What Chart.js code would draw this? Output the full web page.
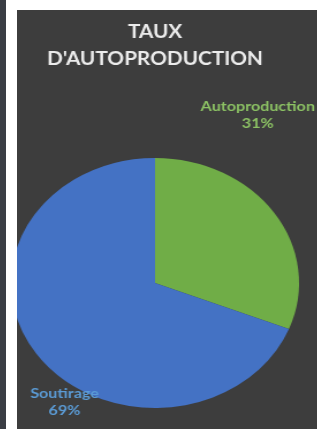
<!DOCTYPE html>
<html>
<head>
<meta charset="utf-8">
<script src="https://cdn.jsdelivr.net/npm/chart.js@4.4.1/dist/chart.umd.min.js"></script>
<style>
  html, body { margin: 0; padding: 0; background: #fff; width: 317px; height: 429px; overflow: hidden; }
  #strip { position: absolute; left: 0; top: 0; width: 6px; height: 429px; background: #3a3d44; }
  #panel { position: absolute; left: 17px; top: 10px; width: 300px; height: 419px; background: #3d3d3d; overflow: hidden; }
  #chart { position: absolute; left: -29px; top: 0; transform: scaleX(1.152); transform-origin: 0 0; }
</style>
</head>
<body>
<div id="strip"></div>
<div id="panel">
  <canvas id="chart" width="290" height="419"></canvas>
</div>
<script>
// data
const categories = ["Autoproduction", "Soutirage"];
const values = [31, 69];
const sliceColors = ["#70ad47", "#4472c4"];
const labelColors = ["#8cc264", "#5b9bd5"];
// where each label sits: fraction along the slice's arc, distance in radii
const labelPlace = [{ f: 0.25, k: 1.525 }, { f: 0.41, k: 1.14 }];

const total = values.reduce((a, b) => a + b, 0);

// draw "name / xx%" labels next to each slice
const sliceLabels = {
  id: "sliceLabels",
  afterDatasetsDraw(chart) {
    const ctx = chart.ctx;
    const arcs = chart.getDatasetMeta(0).data;
    ctx.save();
    ctx.font = "bold 14px Lato";
    ctx.textAlign = "center";
    ctx.textBaseline = "middle";
    arcs.forEach((arc, i) => {
      const p = arc.getProps(["x", "y", "startAngle", "endAngle", "outerRadius"], true);
      const a = p.startAngle + labelPlace[i].f * (p.endAngle - p.startAngle);
      const r = labelPlace[i].k * p.outerRadius;
      const x = p.x + Math.cos(a) * r;
      const y = p.y + Math.sin(a) * r;
      ctx.fillStyle = labelColors[i];
      ctx.fillText(categories[i], x, y - 8.5);
      ctx.fillText(Math.round(values[i] / total * 100) + "%", x, y + 8.5);
    });
    ctx.restore();
  }
};

new Chart(document.getElementById("chart"), {
  type: "pie",
  data: {
    labels: categories,
    datasets: [{
      data: values,
      backgroundColor: sliceColors,
      borderWidth: 0
    }]
  },
  options: {
    responsive: false,
    animation: false,
    layout: { padding: { left: 20, right: 20, top: 0, bottom: 21 } },
    plugins: {
      legend: { display: false },
      tooltip: { enabled: false },
      title: {
        display: true,
        text: ["TAUX", "D'AUTOPRODUCTION"],
        color: "#ececec",
        font: { family: "Lato", size: 18, weight: "bold", lineHeight: 1.5 },
        padding: { top: 8.5, bottom: 85.5 }
      }
    }
  },
  plugins: [sliceLabels]
});
</script>
</body>
</html>
